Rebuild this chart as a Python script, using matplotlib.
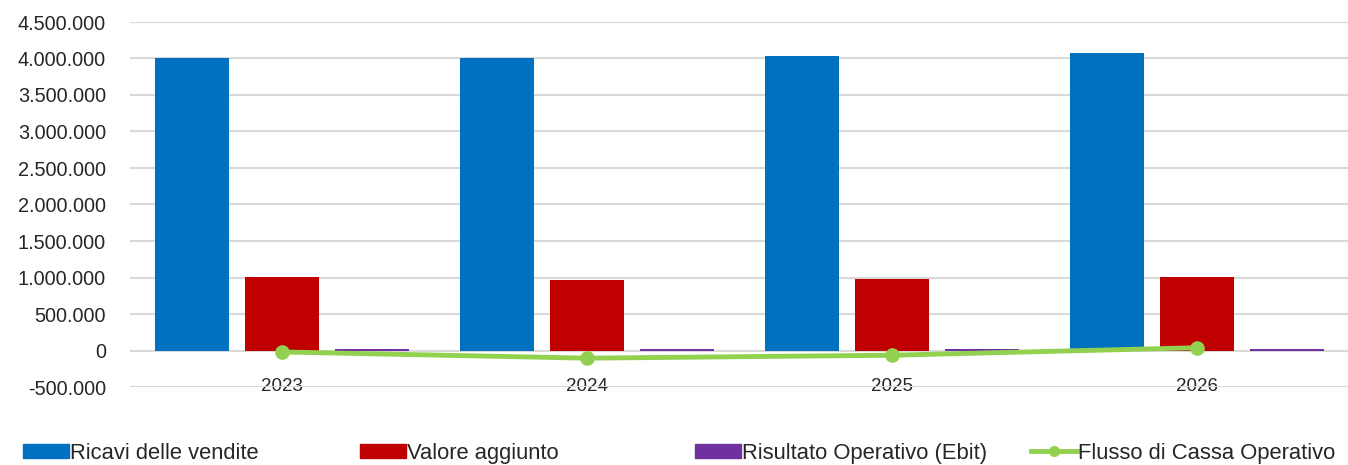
import numpy as np
import matplotlib.pyplot as plt
from matplotlib.patches import Patch
from matplotlib.lines import Line2D
from matplotlib.ticker import FuncFormatter

anni = ['2023', '2024', '2025', '2026']
ricavi = [4010000, 4010000, 4040000, 4080000]
valore_aggiunto = [1010000, 960000, 985000, 1010000]
ebit = [20000, 20000, 20000, 20000]
flusso_cassa = [-20000, -105000, -65000, 38000]

col_ricavi = '#0070C0'
col_valore = '#C00000'
col_ebit = '#7030A0'
col_flusso = '#92D050'

plt.rcParams['font.family'] = ['Liberation Sans', 'DejaVu Sans']

fig = plt.figure(figsize=(13.48, 4.65), dpi=100)
ax = fig.add_axes([129.5 / 1348, 1 - 387 / 465, 1220 / 1348, 365 / 465])

x = np.arange(len(anni))
w = 0.241
off = 0.295
ax.bar(x - off, ricavi, w, color=col_ricavi, zorder=2)
ax.bar(x, valore_aggiunto, w, color=col_valore, zorder=2)
ax.bar(x + off, ebit, w, color=col_ebit, zorder=2)
ax.plot(x, flusso_cassa, color=col_flusso, lw=3.5, marker='o', ms=9.5, zorder=3)

ax.set_xlim(-0.5, len(anni) - 0.5)
ax.set_ylim(-500000, 4500000)
ax.set_yticks(np.arange(-500000, 4500001, 500000))
ax.yaxis.set_major_formatter(FuncFormatter(lambda v, p: f'{int(v):,}'.replace(',', '.')))
ax.grid(axis='y', color='#D9D9D9', lw=1.5, zorder=0)
ax.set_xticks(x)
ax.set_xticklabels(anni)
ax.tick_params(axis='x', length=0, pad=-6.5, labelsize=13.5, colors='#262626')
ax.tick_params(axis='y', length=0, pad=17, labelsize=14.3, colors='#262626')
for s in ax.spines.values():
    s.set_visible(False)

# legenda: quattro voci a distanza fissa come in Excel
voci = [
    (Patch(color=col_ricavi), 'Ricavi delle vendite', 23),
    (Patch(color=col_valore), 'Valore aggiunto', 360),
    (Patch(color=col_ebit), 'Risultato Operativo (Ebit)', 695),
    (Line2D([], [], color=col_flusso, lw=3.5, marker='o', ms=7), 'Flusso di Cassa Operativo', 1031),
]
for h, lab, px in voci:
    leg = fig.legend([h], [lab], loc='center left', bbox_to_anchor=(px / 1348, 1 - 453 / 465),
                     frameon=False, fontsize=15.8, handlelength=2.1, handleheight=0.64,
                     handletextpad=0.05, borderpad=0, borderaxespad=0)
    for t in leg.get_texts():
        t.set_color('#262626')

fig.savefig('out.png', dpi=100)
